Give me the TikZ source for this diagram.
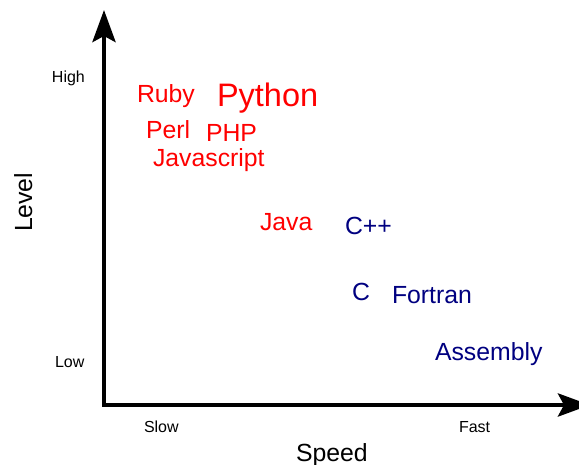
\documentclass[tikz,border=0pt]{standalone}
\usepackage{fontspec}
\setmainfont{Liberation Sans}
\usetikzlibrary{arrows.meta}
\tikzset{
  axis/.style={line width=4.5pt, line join=miter,
    {Stealth[length=32pt,width=23pt,inset=6pt]}-{Stealth[length=32pt,width=23pt,inset=6pt]}},
  lbl/.style={anchor=base west, inner sep=0pt, outer sep=0pt},
  small/.style={lbl, font=\fontsize{16}{18}\selectfont, text=black},
  big/.style={lbl, font=\fontsize{24.8}{28}\selectfont},
  hi/.style={big, text=red},
  lo/.style={big, text=navyblue},
}
\definecolor{navyblue}{RGB}{0,0,128}
\begin{document}
\begin{tikzpicture}[x=1pt,y=-1pt]
\useasboundingbox (0,0) rectangle (579,465);
\coordinate (o) at (104,405);
\coordinate (ytip) at (104,10);
\coordinate (xtip) at (590,405);
\draw[axis] (ytip) -- (o) -- (xtip);

\node[small] (high) at (52,83) {High};
\node[small] (low) at (55,368) {Low};
\node[small] (slow) at (144,432) {Slow};
\node[small] (fast) at (459,432) {Fast};
\node[big, text=black] (speed) at (296,461) {Speed};
\node[big, text=black, rotate=90] (level) at (32,232) {Level};

\node[hi] (ruby) at (137,103) {Ruby};
\node[hi, font=\fontsize{32.5}{36}\selectfont] (python) at (217,107) {Python};
\node[hi] (perl) at (146,139) {Perl};
\node[hi] (php) at (206,142) {PHP};
\node[hi] (js) at (153,167) {Javascript};
\node[hi] (java) at (260,231) {Java};
\node[lo] (cpp) at (345,235) {C++};
\node[lo] (c) at (352,301) {C};
\node[lo] (fortran) at (392,304) {Fortran};
\node[lo] (asm) at (435,361) {Assembly};
\end{tikzpicture}
\end{document}
